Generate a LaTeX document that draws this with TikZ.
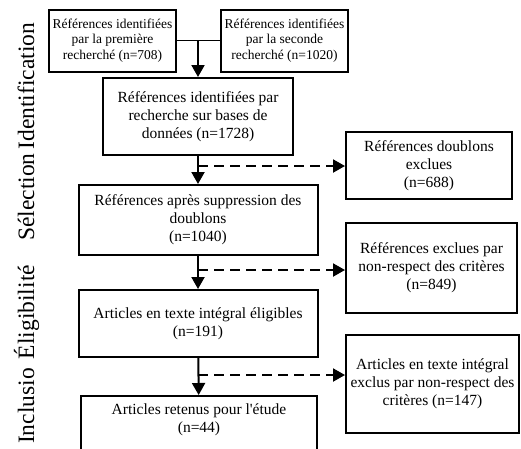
\documentclass[tikz,border=0pt]{standalone}
\usepackage{fontspec}
\setmainfont{Liberation Serif}
\usetikzlibrary{arrows.meta}

\begin{document}
\begin{tikzpicture}[x=1pt,y=-1pt,>={Triangle[length=12pt,width=13pt]},
  box/.style={draw,line width=2pt,align=center,inner sep=2pt,font=\fontsize{15.5}{18}\selectfont},
  smallbox/.style={box,font=\fontsize{13.5}{15.5}\selectfont},
  flow/.style={line width=2pt,->},
  excl/.style={line width=2pt,dash pattern=on 10pt off 6pt,->},
  phase/.style={rotate=90,text height=17pt,text depth=5pt,inner sep=0pt,font=\fontsize{23.5}{28}\selectfont}]
  \useasboundingbox (0,0) rectangle (521,448);
  \node[phase] (ident) at (28,86) {Identification};
  \node[phase] (selec) at (28,197) {Sélection};
  \node[phase] (eligi) at (28,312) {Éligibilité};
  \node[phase] (inclu) at (28,406) {Inclusio};
  \node[smallbox,minimum width=127,minimum height=62] (first) at (112.5,40.5) {Références identifiées\\par la première\\recherché (n=708)};
  \node[smallbox,minimum width=127,minimum height=62] (second) at (284.5,40.5) {Références identifiées\\par la seconde\\recherché (n=1020)};
  \node[box,minimum width=190,minimum height=77] (bases) at (198,116.5) {Références identifiées par\\recherche sur bases de\\données (n=1728)};
  \node[box,minimum width=166,minimum height=67] (doubl) at (429,165.5) {Références doublons\\exclues\\(n=688)};
  \node[box,minimum width=239,minimum height=70] (apres) at (198,220) {Références après suppression des\\doublons\\(n=1040)};
  \node[box,minimum width=171,minimum height=90] (crit) at (431.5,268) {Références exclues par\\non-respect des critères\\(n=849)};
  \node[box,minimum width=239,minimum height=67] (eligb) at (198,323.5) {Articles en texte intégral éligibles\\(n=191)};
  \node[box,minimum width=173,minimum height=98] (exart) at (432.5,384) {Articles en texte intégral\\exclus par non-respect des\\critères (n=147)};
  \node[box,minimum width=236,minimum height=68] (reten) at (199,430) {Articles retenus pour l\textquotesingle étude\\(n=44)\\\strut};
  \coordinate (join) at (198,40.5);
  \draw[line width=1.5pt] (first) -- (second);
  \draw[flow] (join) -- (bases.north);
  \draw[flow] (bases) -- (apres);
  \draw[flow] (apres) -- (eligb);
  \draw[flow] (eligb) -- (reten);
  \path (bases.south) ++(0,10) coordinate (cx);
  \path (apres.south) ++(0,14) coordinate (dx);
  \path (eligb.south) ++(0,17) coordinate (fx);
  \draw[excl] (cx) -- (cx -| doubl.west);
  \draw[excl] (dx) -- (dx -| crit.west);
  \draw[excl] (fx) -- (fx -| exart.west);
\end{tikzpicture}
\end{document}
